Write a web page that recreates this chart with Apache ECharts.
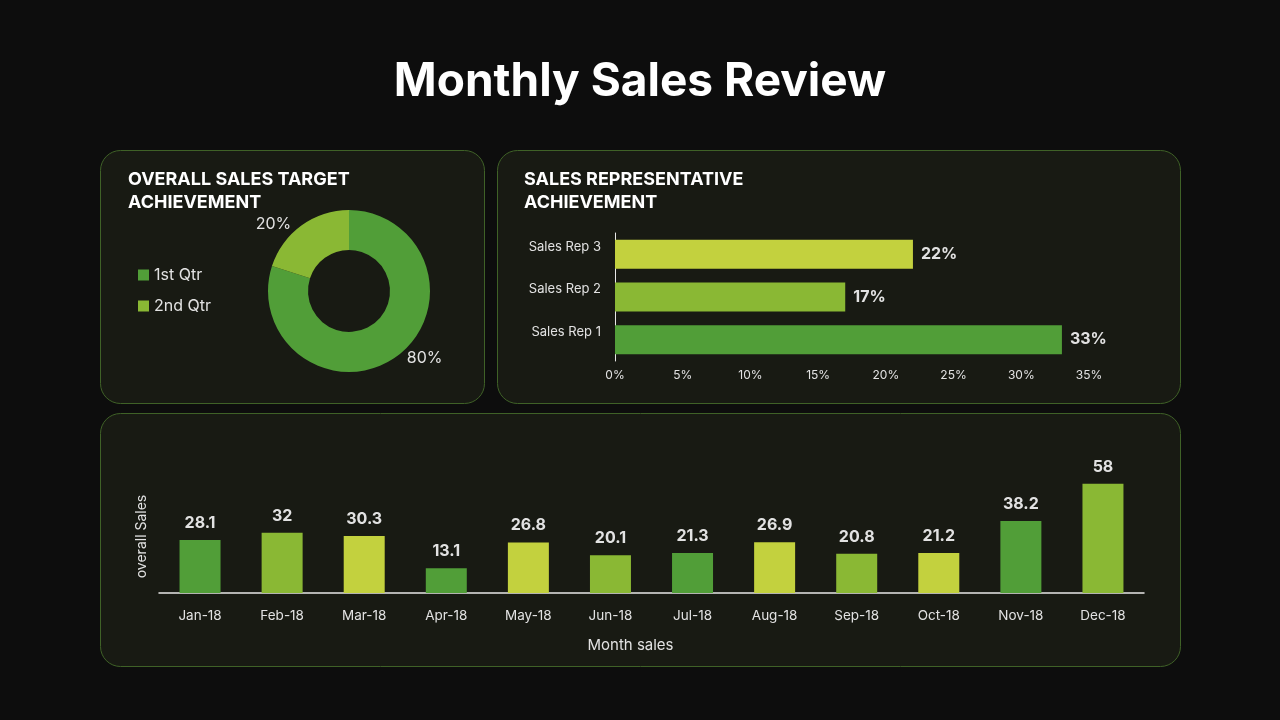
<!DOCTYPE html>
<html>
<head>
<meta charset="utf-8">
<script src="https://cdn.jsdelivr.net/npm/echarts@6/dist/echarts.min.js"></script>
<style>
html,body{margin:0;padding:0;background:#0d0d0d;}
#main{width:1280px;height:720px;}
</style>
</head>
<body>
<div id="main"></div>
<script>
// ---- Data ----
const pieNames = ['1st Qtr', '2nd Qtr'];
const pieValues = [80, 20];

const repNames = ['Sales Rep 1', 'Sales Rep 2', 'Sales Rep 3'];
const repValues = [0.33, 0.17, 0.22];

const months = ['Jan-18','Feb-18','Mar-18','Apr-18','May-18','Jun-18','Jul-18','Aug-18','Sep-18','Oct-18','Nov-18','Dec-18'];
const monthValues = [28.1, 32, 30.3, 13.1, 26.8, 20.1, 21.3, 26.9, 20.8, 21.2, 38.2, 58];

// ---- Styles ----
const C_DARK = '#519e38', C_MID = '#8ab834', C_YEL = '#c3d13e';
const monthColors = [C_DARK, C_MID, C_YEL, C_DARK, C_YEL, C_MID, C_DARK, C_YEL, C_MID, C_YEL, C_DARK, C_MID];
const repColors = [C_DARK, C_MID, C_YEL];
const FONT = 'Inter, "Open Sans", sans-serif';
const TXT = '#e2e2e2';

const chart = echarts.init(document.getElementById('main'));

function panel(x, y, w, h) {
  return { type: 'rect', z: -10, shape: { x: x, y: y, width: w, height: h, r: 20 },
    style: { fill: '#181a13', stroke: '#3f6127', lineWidth: 1 } };
}

chart.setOption({
  backgroundColor: '#0d0d0d',
  textStyle: { fontFamily: FONT },
  title: [
    { text: 'Monthly Sales Review', left: 'center', top: 54,
      textStyle: { color: '#ffffff', fontSize: 46, fontWeight: 'bold', fontFamily: FONT } },
    { text: 'OVERALL SALES TARGET\nACHIEVEMENT', left: 123, top: 163,
      textStyle: { color: '#ffffff', fontSize: 18, fontWeight: 'bold', lineHeight: 23, fontFamily: FONT } },
    { text: 'SALES REPRESENTATIVE\nACHIEVEMENT', left: 519, top: 163,
      textStyle: { color: '#ffffff', fontSize: 18, fontWeight: 'bold', lineHeight: 23, fontFamily: FONT } }
  ],
  graphic: [
    panel(100.5, 150.5, 384, 253),
    panel(497.5, 150.5, 683, 253),
    panel(100.5, 413.5, 1080, 253)
  ],
  legend: {
    data: pieNames, orient: 'vertical', left: 133, top: 262, itemGap: 15,
    icon: 'rect', itemWidth: 11, itemHeight: 11,
    textStyle: { color: TXT, fontSize: 16, fontFamily: FONT }
  },
  grid: [
    { left: 615, right: 191, top: 233, bottom: 359 },
    { left: 159, right: 136, top: 480, bottom: 127 }
  ],
  xAxis: [
    { gridIndex: 0, type: 'value', min: 0, max: 0.35, interval: 0.05,
      axisLine: { show: false }, axisTick: { show: false }, splitLine: { show: false },
      axisLabel: { color: TXT, fontSize: 12, margin: 8, fontFamily: FONT,
        formatter: v => Math.round(v * 100) + '%' } },
    { gridIndex: 1, type: 'category', data: months,
      name: 'Month sales', nameLocation: 'middle', nameGap: 45,
      nameTextStyle: { color: TXT, fontSize: 15, fontFamily: FONT, padding: [0, 42, 0, 0] },
      axisLine: { lineStyle: { color: '#e8e8e8', width: 1.5 } }, axisTick: { show: false },
      axisLabel: { color: TXT, fontSize: 13.5, margin: 16, fontFamily: FONT } }
  ],
  yAxis: [
    { gridIndex: 0, type: 'category', data: repNames,
      axisLine: { lineStyle: { color: '#e8e8e8', width: 1 } }, axisTick: { show: false },
      axisLabel: { color: TXT, fontSize: 13, margin: 14, fontFamily: FONT,
        verticalAlign: 'bottom', padding: [0, 0, 1, 0] } },
    { gridIndex: 1, type: 'value', min: 0, max: 60,
      name: 'overall Sales', nameLocation: 'middle', nameGap: 10, nameRotate: 90,
      nameTextStyle: { color: TXT, fontSize: 14, fontFamily: FONT },
      axisLine: { show: false }, axisTick: { show: false }, splitLine: { show: false },
      axisLabel: { show: false } }
  ],
  series: [
    {
      type: 'pie', center: [349, 291], radius: [41, 81], startAngle: 90,
      data: pieNames.map((n, i) => ({ name: n, value: pieValues[i] })),
      color: [C_DARK, C_MID],
      label: { show: true, position: 'outside', formatter: '{c}%', color: TXT, fontSize: 16, fontFamily: FONT },
      labelLine: { show: false, length: 2, length2: 4 },
      itemStyle: { borderWidth: 0 },
      emphasis: { disabled: true }
    },
    {
      type: 'bar', xAxisIndex: 0, yAxisIndex: 0, barWidth: 29,
      data: repValues.map((v, i) => ({ value: v, itemStyle: { color: repColors[i] } })),
      label: { show: true, position: 'right', distance: 8, color: TXT, fontSize: 16, fontWeight: 'bold',
        fontFamily: FONT, formatter: p => Math.round(p.value * 100) + '%' }
    },
    {
      type: 'bar', xAxisIndex: 1, yAxisIndex: 1, barWidth: 41,
      data: monthValues.map((v, i) => ({ value: v, itemStyle: { color: monthColors[i] } })),
      label: { show: true, position: 'top', distance: 9, color: TXT, fontSize: 16, fontWeight: 'bold', fontFamily: FONT }
    }
  ]
});
</script>
</body>
</html>
